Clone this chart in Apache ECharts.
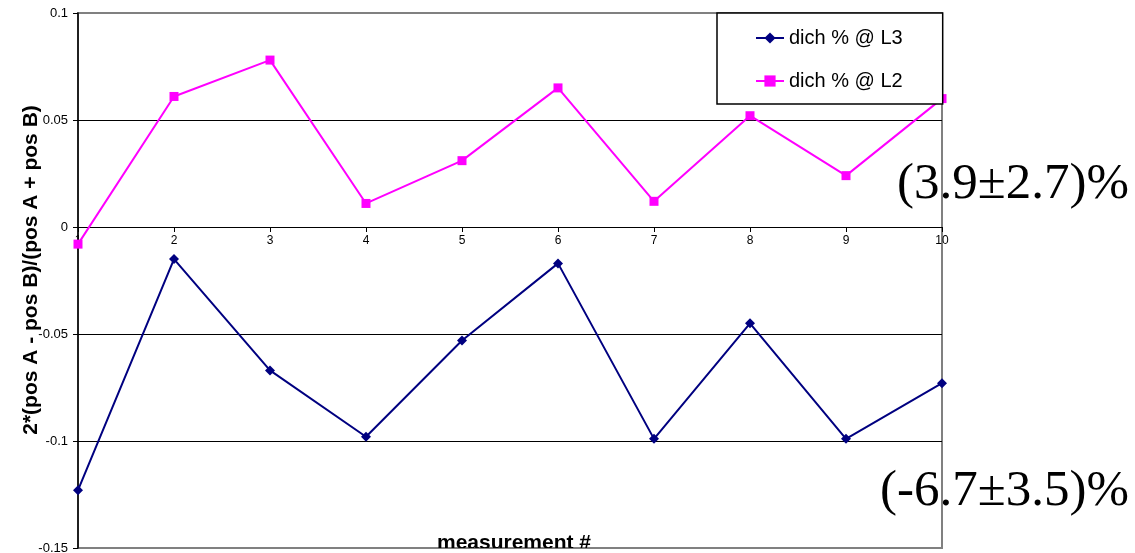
<!DOCTYPE html>
<html>
<head>
<meta charset="utf-8">
<script src="https://cdn.jsdelivr.net/npm/echarts@6/dist/echarts.min.js"></script>
<style>html,body{margin:0;padding:0;background:#fff;}#c{width:1135px;height:553px;}</style>
</head>
<body>
<div id="c"></div>
<script>
const measurements = [1, 2, 3, 4, 5, 6, 7, 8, 9, 10];
const dichL3 = [-0.123, -0.015, -0.067, -0.098, -0.053, -0.017, -0.099, -0.045, -0.099, -0.073];
const dichL2 = [-0.008, 0.061, 0.078, 0.011, 0.031, 0.065, 0.012, 0.052, 0.024, 0.060];
const seriesNames = ['dich % @ L3', 'dich % @ L2'];
const yAxisTitle = '2*(pos A - pos B)/(pos A + pos B)';
const xAxisTitle = 'measurement #';
const noteL2 = '(3.9\u00B12.7)%';
const noteL3 = '(-6.7\u00B13.5)%';

const chart = echarts.init(document.getElementById('c'));
const sans = '"Liberation Sans", Arial, sans-serif';
const serif = '"Liberation Serif", "Times New Roman", serif';

chart.setOption({
  animation: false,
  backgroundColor: '#fff',
  grid: {
    left: 78, right: 193, top: 13, bottom: 5,
    containLabel: false, outerBoundsMode: 'none',
    show: true, borderColor: '#808080', borderWidth: 2, backgroundColor: '#fff'
  },
  legend: {
    data: seriesNames,
    orient: 'vertical',
    left: 717, top: 13,
    padding: [15, 40, 13, 38],
    itemGap: 23,
    itemWidth: 28, itemHeight: 14,
    borderColor: '#000', borderWidth: 1.5,
    backgroundColor: '#fff',
    textStyle: { fontFamily: sans, fontSize: 20, color: '#000' }
  },
  xAxis: {
    type: 'value', min: 1, max: 10, interval: 1,
    position: 'bottom', offset: -321,
    axisLine: { onZero: false, lineStyle: { color: '#000', width: 1 } },
    axisTick: { show: true, length: 5, lineStyle: { color: '#000' } },
    axisLabel: { fontFamily: sans, fontSize: 12, color: '#000', margin: 8, showMinLabel: true, showMaxLabel: true },
    splitLine: { show: false }
  },
  yAxis: {
    type: 'value', min: -0.15, max: 0.1, interval: 0.05,
    axisLine: { show: true, onZero: false, lineStyle: { color: '#000', width: 1.5 } },
    axisTick: { show: true, length: 5, lineStyle: { color: '#000' } },
    axisLabel: {
      fontFamily: sans, fontSize: 13, color: '#000', margin: 10,
      formatter: v => String(parseFloat(v.toFixed(2)))
    },
    splitLine: { show: true, lineStyle: { color: ['#808080', '#000', '#000', '#000', '#000', '#808080'], width: 1 } }
  },
  series: [
    {
      name: seriesNames[0], type: 'line', clip: false,
      data: measurements.map((m, i) => [m, dichL3[i]]),
      symbol: 'diamond', symbolSize: 10,
      itemStyle: { color: '#000080' },
      lineStyle: { color: '#000080', width: 2 }
    },
    {
      name: seriesNames[1], type: 'line', clip: false,
      data: measurements.map((m, i) => [m, dichL2[i]]),
      symbol: 'rect', symbolSize: 9,
      itemStyle: { color: '#FF00FF' },
      lineStyle: { color: '#FF00FF', width: 2 }
    }
  ],
  graphic: [
    {
      type: 'text', x: 31, y: 270, rotation: Math.PI / 2,
      style: { text: yAxisTitle, fontFamily: sans, fontSize: 21, fontWeight: 'bold', fill: '#000', textAlign: 'center', textVerticalAlign: 'middle' }
    },
    {
      type: 'text', x: 514, y: 554,
      style: { text: xAxisTitle, fontFamily: sans, fontSize: 21, fontWeight: 'bold', fill: '#000', textAlign: 'center', textVerticalAlign: 'bottom' }
    },
    {
      type: 'text', x: 1129, y: 185,
      style: { text: noteL2, fontFamily: serif, fontSize: 51, fill: '#000', textAlign: 'right', textVerticalAlign: 'middle' }
    },
    {
      type: 'text', x: 1129, y: 492,
      style: { text: noteL3, fontFamily: serif, fontSize: 51, fill: '#000', textAlign: 'right', textVerticalAlign: 'middle' }
    }
  ]
});
</script>
</body>
</html>
